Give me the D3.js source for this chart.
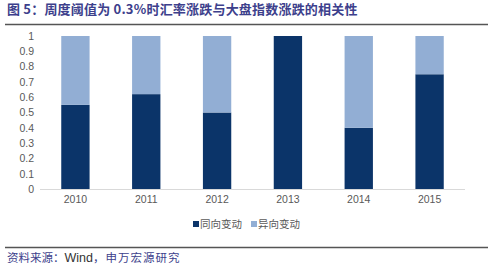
<!DOCTYPE html>
<html><head><meta charset="utf-8">
<script src="https://cdn.jsdelivr.net/npm/d3@7/dist/d3.min.js"></script>
<style>body{margin:0;background:#fff}svg{display:block}</style>
</head><body>
<script>
const categories = ["2010","2011","2012","2013","2014","2015"];
const sameDirection = [0.55,0.62,0.50,1.00,0.40,0.75];
const oppositeDirection = [0.45,0.38,0.50,0.00,0.60,0.25];
const seriesNames = ["同向变动","异向变动"];
const yTicks = [0,0.1,0.2,0.3,0.4,0.5,0.6,0.7,0.8,0.9,1];
const colors = ["#0b3469","#92aed4"];

const W=500,H=274;
const svg=d3.select("body").append("svg").attr("width",W).attr("height",H);
const font="'Noto Sans CJK SC','Microsoft YaHei',sans-serif";

svg.append("text").attr("x",7).attr("y",14).attr("font-family",font).attr("font-size",13)
  .attr("font-weight","bold").attr("fill","#3d3f8c").attr("letter-spacing",0.2).text("图 5：周度阈值为 0.3%时汇率涨跌与大盘指数涨跌的相关性");
svg.append("line").attr("x1",5).attr("x2",488).attr("y1",24.5).attr("y2",24.5).attr("stroke","#555").attr("stroke-width",1.3);

const x=d3.scaleBand().domain(categories).range([40,465]).paddingInner(0.6).paddingOuter(0.3);
const y=d3.scaleLinear().domain([0,1]).range([189,36]);

const data=categories.map((c,i)=>({cat:c,s0:sameDirection[i],s1:oppositeDirection[i]}));
const stack=d3.stack().keys(["s0","s1"])(data);
svg.append("g").selectAll("g").data(stack).join("g").attr("fill",(d,i)=>colors[i])
  .selectAll("rect").data(d=>d).join("rect")
  .attr("x",d=>x(d.data.cat)).attr("width",x.bandwidth())
  .attr("y",d=>y(d[1])).attr("height",d=>y(d[0])-y(d[1]));

const ya=svg.append("g").attr("transform","translate(34,0)")
  .call(d3.axisLeft(y).tickValues(yTicks).tickSize(0).tickPadding(0).tickFormat(d=>d3.format("~g")(d)));
ya.select(".domain").remove();
ya.selectAll("text").attr("font-family","Arial,'Liberation Sans',sans-serif").attr("font-size",10.5).attr("fill","#595959");

const xa=svg.append("g").attr("transform","translate(0,189)")
  .call(d3.axisBottom(x).tickSize(0).tickPadding(7));
xa.select(".domain").attr("stroke","#d9d9d9").attr("d","M40,0.5H465");
xa.selectAll("text").attr("font-family","Arial,'Liberation Sans',sans-serif").attr("font-size",10.5).attr("fill","#595959");

const lg=svg.append("g").attr("transform","translate(193,225)");
const lx=[0,58];
seriesNames.forEach((n,i)=>{
  lg.append("rect").attr("x",lx[i]).attr("y",-4).attr("width",6).attr("height",6).attr("fill",colors[i]);
  lg.append("text").attr("x",lx[i]+7).attr("y",3).attr("font-family",font).attr("font-size",10.5).attr("fill","#595959").text(n);
});

svg.append("line").attr("x1",5).attr("x2",488).attr("y1",247.5).attr("y2",247.5).attr("stroke","#555").attr("stroke-width",1.3);
const src=svg.append("text").attr("x",7).attr("y",262).attr("font-family",font).attr("font-size",11.5).attr("fill","#3d3f8c");
src.append("tspan").text("资料来源：");
src.append("tspan").attr("font-family","Arial,'Liberation Sans',sans-serif").attr("font-size",12.5).attr("fill","#333").text("Wind");
src.append("tspan").attr("letter-spacing",1).text("，申万宏源研究");
</script>
</body></html>
